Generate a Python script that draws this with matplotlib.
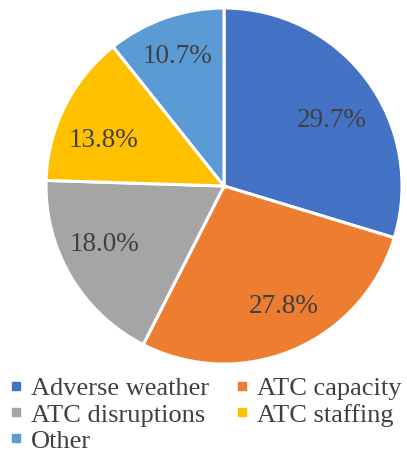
import matplotlib
matplotlib.use("Agg")
import numpy as np
import matplotlib.pyplot as plt
from matplotlib.lines import Line2D

categories = ["Adverse weather", "ATC capacity", "ATC disruptions", "ATC staffing", "Other"]
shares = [29.7, 27.8, 18.0, 13.8, 10.7]
colors = ["#4472C4", "#ED7D31", "#A5A5A5", "#FFC000", "#5B9BD5"]

# placement of each percentage label: fraction of the radius and angular nudge
label_radius = [0.72, 0.74, 0.74, 0.73, 0.79]
label_nudge_deg = [-4, 4, -5.5, 4.5, 0]

plt.rcParams["font.family"] = ["Liberation Serif", "DejaVu Serif"]
text_color = "#404040"

fig = plt.figure(figsize=(4.07, 4.54), dpi=100)
ax = fig.add_axes([46 / 407, 1 - 364 / 454, 356 / 407, 356 / 454])

wedges, _, autotexts = ax.pie(
    shares,
    colors=colors,
    startangle=90,
    counterclock=False,
    autopct="%.1f%%",
    pctdistance=0.72,
    wedgeprops=dict(edgecolor="white", linewidth=2.2),
    textprops=dict(color=text_color, fontsize=19.5),
)
for w, t, r, d in zip(wedges, autotexts, label_radius, label_nudge_deg):
    mid = np.deg2rad((w.theta1 + w.theta2) / 2 + d)
    t.set_position((r * np.cos(mid), r * np.sin(mid)))
    t.set_va("center_baseline")

ax.set_xlim(-1, 1)
ax.set_ylim(-1, 1)
ax.set_aspect("equal")

handles = [Line2D([], [], marker="s", linestyle="", markersize=6,
                  markerfacecolor=c, markeredgecolor=c) for c in colors]
order = [0, 2, 4, 1, 3]
fig.legend(
    [handles[i] for i in order],
    [categories[i] for i in order],
    ncol=2,
    loc="upper left",
    bbox_to_anchor=(0.025, 1 - 377 / 454),
    frameon=False,
    fontsize=19,
    labelcolor=text_color,
    handlelength=0.45,
    handletextpad=0.35,
    columnspacing=1.0,
    labelspacing=0.1,
    borderaxespad=0,
    borderpad=0,
)

fig.savefig("out.png", dpi=100)
